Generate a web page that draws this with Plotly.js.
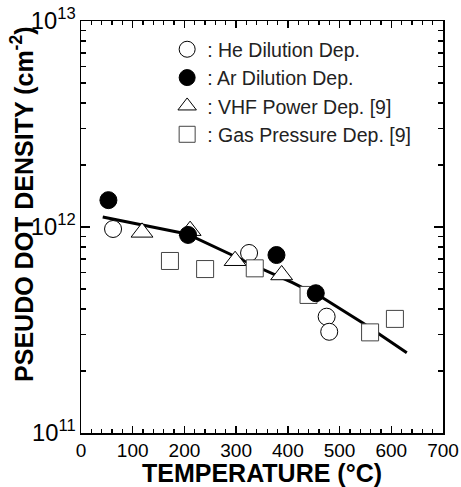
<!DOCTYPE html>
<html>
<head>
<meta charset="utf-8">
<script src="https://cdn.plot.ly/plotly-3.0.1.min.js"></script>
<style>html,body{margin:0;padding:0;background:#fff;}#chart{width:461px;height:487px;}</style>
</head>
<body>
<div id="chart"></div>
<script>
// Data
var heTemp = [62, 325, 475, 480];
var heDensity = [9.78e11, 7.48e11, 3.67e11, 3.10e11];

var arTemp = [53, 207, 378, 454];
var arDensity = [1.35e12, 9.15e11, 7.31e11, 4.77e11];

var vhfTemp = [118, 211, 298, 388];
var vhfDensity = [9.42e11, 9.6e11, 6.86e11, 5.85e11];

var gasTemp = [172, 240, 336, 440, 559, 607];
var gasDensity = [6.84e11, 6.25e11, 6.3e11, 4.68e11, 3.08e11, 3.58e11];

var fitTemp = [42, 205, 333, 410, 468, 545, 630];
var fitDensity = [1.118e12, 9.25e11, 6.54e11, 5.35e11, 4.52e11, 3.42e11, 2.45e11];

var legendNames = [': He Dilution Dep.', ': Ar Dilution Dep.', ': VHF Power Dep. [9]', ': Gas Pressure Dep. [9]'];

var FONT = 'Liberation Sans, Arial, sans-serif';

var traces = [
  {x: fitTemp, y: fitDensity, mode: 'lines', line: {color: '#000', width: 3}, showlegend: false, hoverinfo: 'skip'},
  {x: heTemp, y: heDensity, mode: 'markers', name: legendNames[0], legendrank: 1,
   marker: {symbol: 'circle', size: 17, color: '#fff', line: {color: '#000', width: 1}}},
  {x: vhfTemp, y: vhfDensity, mode: 'markers', name: legendNames[2], legendrank: 3,
   marker: {symbol: 'triangle-up', size: 19, color: '#fff', line: {color: '#000', width: 1}}},
  {x: gasTemp, y: gasDensity, mode: 'markers', name: legendNames[3], legendrank: 4,
   marker: {symbol: 'square', size: 17, color: '#fff', line: {color: '#444', width: 1}}},
  {x: arTemp, y: arDensity, mode: 'markers', name: legendNames[1], legendrank: 2,
   marker: {symbol: 'circle', size: 17, color: '#000', line: {color: '#000', width: 1}}}
];

var layout = {
  width: 461, height: 487,
  margin: {l: 81, r: 18, t: 21, b: 54},
  paper_bgcolor: '#fff', plot_bgcolor: '#fff',
  font: {family: FONT, color: '#000', size: 19},
  showlegend: true,
  legend: {x: 0.238, y: 0.978, xanchor: 'left', yanchor: 'top', bgcolor: 'rgba(0,0,0,0)',
           font: {family: FONT, size: 19.5, color: '#222'}, traceorder: 'normal', itemsizing: 'trace'},
  xaxis: {
    range: [0, 700], dtick: 100, tick0: 0,
    showline: true, linecolor: '#000', linewidth: 1.5, mirror: 'ticks',
    ticks: 'inside', ticklen: 7, tickwidth: 1.3, tickcolor: '#000',
    minor: {dtick: 20, ticks: 'inside', ticklen: 4, tickwidth: 1.3, tickcolor: '#000'},
    showgrid: false, zeroline: false,
    tickfont: {family: FONT, size: 19},
    title: {text: 'TEMPERATURE (°C)', font: {family: FONT, size: 25, weight: 'bold'}, standoff: 4}
  },
  yaxis: {
    type: 'log', range: [11, 13], dtick: 1,
    exponentformat: 'power', showexponent: 'all',
    showline: true, linecolor: '#000', linewidth: 1.5, mirror: 'ticks',
    ticks: 'inside', ticklen: 9, tickwidth: 1.3, tickcolor: '#000',
    minor: {dtick: 'D1', ticks: 'inside', ticklen: 5, tickwidth: 1.3, tickcolor: '#000'},
    showgrid: false, zeroline: false,
    tickfont: {family: FONT, size: 19}
  },
  annotations: [{
    text: 'PSEUDO DOT DENSITY (cm<sup>-2</sup>)',
    xref: 'paper', yref: 'paper', x: -0.163, y: 0.556,
    xanchor: 'center', yanchor: 'middle', textangle: -90, showarrow: false,
    font: {family: FONT, size: 25, weight: 'bold', color: '#000'}
  }]
};

Plotly.newPlot('chart', traces, layout, {displayModeBar: false, staticPlot: true});
</script>
</body>
</html>
